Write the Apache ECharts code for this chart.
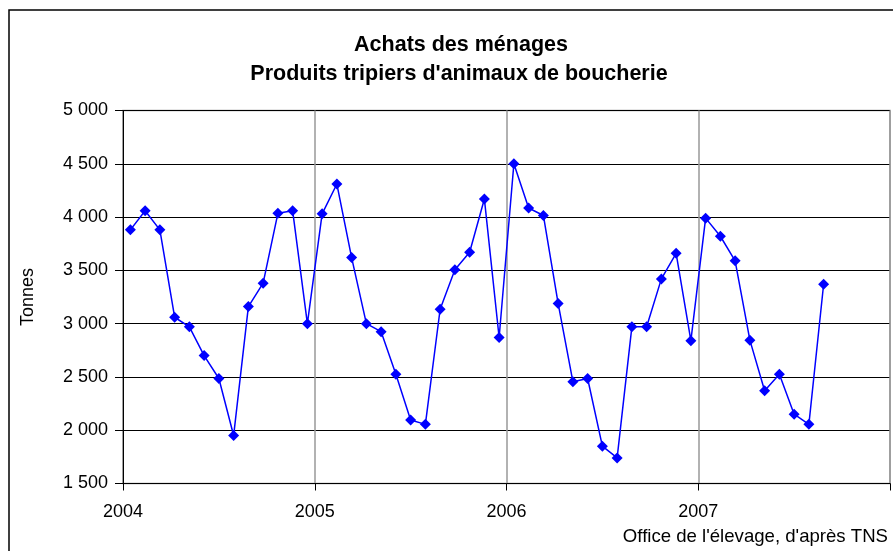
<!DOCTYPE html>
<html>
<head>
<meta charset="utf-8">
<script src="https://cdn.jsdelivr.net/npm/echarts@6/dist/echarts.min.js"></script>
<style>
html,body{margin:0;padding:0;background:#fff;}
#chart{width:893px;height:551px;}
</style>
</head>
<body>
<div id="chart"></div>
<script>
// Data: 4-week periods (13 per year), tonnes
const years = [2004, 2005, 2006, 2007];
const periodsPerYear = 13;
const values2004 = [3880, 4060, 3880, 3060, 2970, 2700, 2485, 1950, 3160, 3380, 4035, 4060, 3000];
const values2005 = [4030, 4310, 3620, 3000, 2925, 2525, 2095, 2055, 3135, 3505, 3670, 4170, 2870];
const values2006 = [4500, 4085, 4015, 3190, 2455, 2485, 1850, 1740, 2970, 2970, 3420, 3660, 2840];
const values2007 = [3990, 3820, 3590, 2845, 2370, 2525, 2150, 2055, 3370];
const xTickLabels = ['2004', '2005', '2006', '2007'];
const yTicks = [1500, 2000, 2500, 3000, 3500, 4000, 4500, 5000];

const title1 = 'Achats des ménages';
const title2 = "Produits tripiers d'animaux de boucherie";
const yName = 'Tonnes';
const source = "Office de l'élevage, d'après TNS";

const byYear = [values2004, values2005, values2006, values2007];
const seriesData = [];
byYear.forEach((vals, yi) => {
  vals.forEach((v, p) => {
    seriesData.push([years[yi] + (p + 0.5) / periodsPerYear, v]);
  });
});

const FONT = "'Liberation Sans', Arial, sans-serif";
const fmtThousands = v => String(v).replace(/\B(?=(\d{3})+(?!\d))/g, ' ');

const chart = echarts.init(document.getElementById('chart'), null, {renderer: 'canvas'});
chart.setOption({
  backgroundColor: '#fff',
  animation: false,
  textStyle: {fontFamily: FONT},
  title: [
    {text: title1, left: 456, top: 29, textAlign: 'center',
     textStyle: {fontFamily: FONT, fontSize: 21.5, fontWeight: 'bold', color: '#000'}},
    {text: title2, left: 454, top: 58, textAlign: 'center',
     textStyle: {fontFamily: FONT, fontSize: 21.5, fontWeight: 'bold', color: '#000'}}
  ],
  grid: {left: 123, right: 2, top: 110.5, bottom: 67.5, show: true,
         borderColor: '#999', borderWidth: 1.5, backgroundColor: 'transparent'},
  xAxis: {
    type: 'value', min: years[0], max: years[0] + 4, interval: 1,
    axisLine: {lineStyle: {color: '#000', width: 1}},
    axisTick: {show: true, length: 7, lineStyle: {color: '#000'}},
    axisLabel: {
      fontFamily: FONT, fontSize: 18, color: '#000', margin: 20,
      formatter: v => { const i = Math.round(v) - years[0]; return xTickLabels[i] || ''; }
    },
    splitLine: {show: true, lineStyle: {color: '#999', width: 1.5}}
  },
  yAxis: {
    type: 'value', min: yTicks[0], max: yTicks[yTicks.length - 1], interval: 500,
    name: yName, nameLocation: 'middle', nameGap: 86,
    nameTextStyle: {fontFamily: FONT, fontSize: 18, color: '#000'},
    axisLine: {show: true, lineStyle: {color: '#000', width: 1}},
    axisTick: {show: true, length: 8, lineStyle: {color: '#000'}},
    axisLabel: {fontFamily: FONT, fontSize: 18, color: '#000', margin: 15, formatter: fmtThousands},
    splitLine: {show: true, lineStyle: {color: '#000', width: 1}}
  },
  series: [{
    type: 'line', data: seriesData,
    symbol: 'diamond', symbolSize: 11,
    lineStyle: {color: '#0000ff', width: 1.5},
    itemStyle: {color: '#0000ff'}
  }],
  graphic: [
    {type: 'rect', shape: {x: 9, y: 10, width: 920, height: 580}, z: 100,
     style: {fill: 'none', stroke: '#000', lineWidth: 1.5}, silent: true},
    {type: 'text', right: 5, top: 527, z: 100,
     style: {text: source, font: "18.6px 'Liberation Sans', Arial, sans-serif", fill: '#000'}}
  ]
});
</script>
</body>
</html>
